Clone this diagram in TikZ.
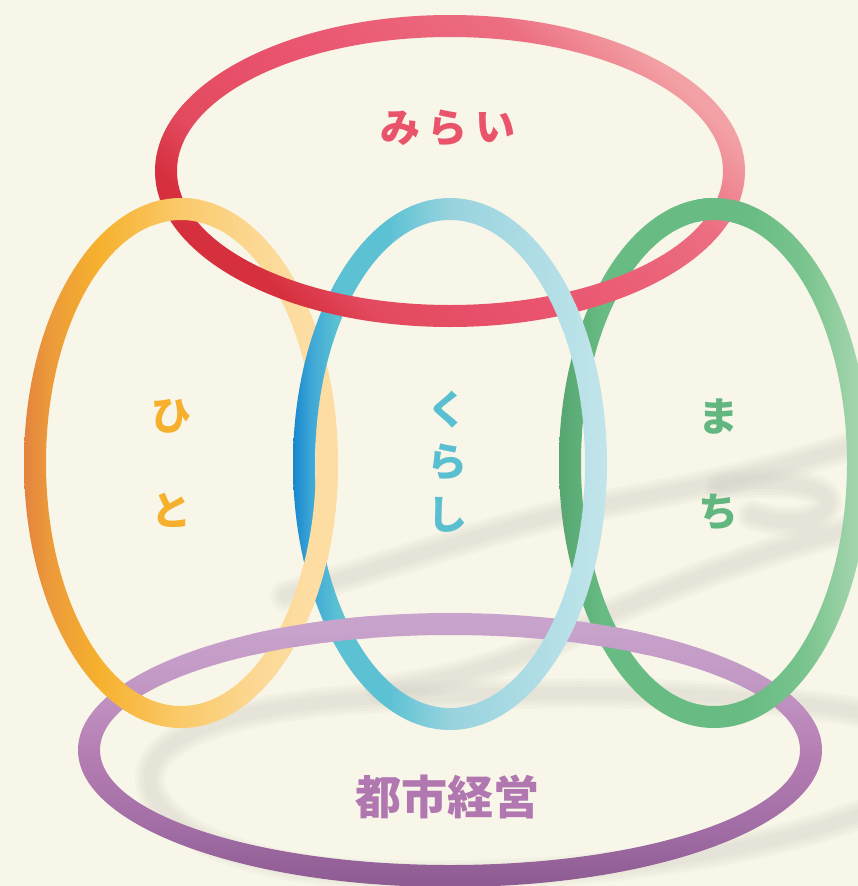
\documentclass[tikz,border=0pt]{standalone}
\usepackage{fontspec}
\newfontfamily\jpfont{Noto Sans CJK JP}
\definecolor{bg}{HTML}{F8F6E8}
\definecolor{shc}{HTML}{CDCBC2}
\definecolor{rA}{HTML}{D6303E}
\definecolor{rB}{HTML}{E34A5F}
\definecolor{rC}{HTML}{EA5570}
\definecolor{rD}{HTML}{EC6E80}
\definecolor{rE}{HTML}{F2A0A4}
\definecolor{rF}{HTML}{F4ADB0}
\definecolor{oA}{HTML}{E3843F}
\definecolor{oAB}{HTML}{EC9A3A}
\definecolor{oB}{HTML}{F6B12E}
\definecolor{oC}{HTML}{FACA6A}
\definecolor{oCD}{HTML}{FCD894}
\definecolor{oD}{HTML}{FDDDA2}
\definecolor{bA}{HTML}{1787CF}
\definecolor{bAB}{HTML}{40A8D6}
\definecolor{bB}{HTML}{5BC1D3}
\definecolor{bC}{HTML}{98D3DE}
\definecolor{bD}{HTML}{C2E5EB}
\definecolor{gA}{HTML}{57A571}
\definecolor{gB}{HTML}{67BB83}
\definecolor{gC}{HTML}{7BC48F}
\definecolor{gD}{HTML}{A8D7B0}
\definecolor{pA}{HTML}{8C5B92}
\definecolor{pAB}{HTML}{A36FA6}
\definecolor{pB}{HTML}{B67FB4}
\definecolor{pBC}{HTML}{C299C5}
\definecolor{pC}{HTML}{C9A5CD}
\definecolor{tR}{HTML}{E9546B}
\definecolor{tO}{HTML}{F6B02D}
\definecolor{tB}{HTML}{5BBFD2}
\definecolor{tG}{HTML}{62B67F}
\definecolor{tP}{HTML}{B177B0}
\pgfdeclarehorizontalshading{redsh}{100bp}{color(0bp)=(rA); color(27bp)=(rA); color(33bp)=(rB); color(48bp)=(rC); color(66bp)=(rD); color(75bp)=(rE); color(82bp)=(rF); color(100bp)=(rF)}
\pgfdeclarehorizontalshading{orangesh}{100bp}{color(0bp)=(oA); color(25bp)=(oA); color(29bp)=(oAB); color(37bp)=(oB); color(50bp)=(oC); color(62bp)=(oCD); color(70bp)=(oD); color(100bp)=(oD)}
\pgfdeclarehorizontalshading{bluesh}{100bp}{color(0bp)=(bA); color(25bp)=(bA); color(28bp)=(bAB); color(32bp)=(bB); color(40bp)=(bB); color(50bp)=(bC); color(75bp)=(bD); color(100bp)=(bD)}
\pgfdeclarehorizontalshading{greensh}{100bp}{color(0bp)=(gA); color(25bp)=(gA); color(32bp)=(gB); color(55bp)=(gB); color(65bp)=(gC); color(74bp)=(gD); color(100bp)=(gD)}
\pgfdeclareverticalshading{purplesh}{100bp}{color(0bp)=(pA); color(25bp)=(pA); color(37bp)=(pAB); color(50bp)=(pB); color(63bp)=(pBC); color(75bp)=(pC); color(100bp)=(pC)}
\newcommand{\ringRed}{\shade[even odd rule, shading=redsh, shading angle=45] (450,171) ellipse [x radius=295, y radius=156] (450,171) ellipse [x radius=273, y radius=134];}
\newcommand{\ringOrange}{\shade[even odd rule, shading=orangesh] (181,463) ellipse [x radius=157, y radius=265] (181,463) ellipse [x radius=135, y radius=243];}
\newcommand{\ringBlue}{\shade[even odd rule, shading=bluesh] (450,464) ellipse [x radius=157, y radius=266] (450,464) ellipse [x radius=135, y radius=244];}
\newcommand{\ringGreen}{\shade[even odd rule, shading=greensh] (714,463) ellipse [x radius=155, y radius=265] (714,463) ellipse [x radius=133, y radius=243];}
\newcommand{\ringPurple}{\shade[even odd rule, shading=purplesh] (450,750) ellipse [x radius=372, y radius=137] (450,750) ellipse [x radius=350, y radius=115];}
\newcommand{\softshadow}[1]{\foreach \w in {30,24,18,12}{\draw[shadowline, line width=\w pt] #1;}}
\tikzset{
  shadowline/.style={draw=shc, opacity=0.11, line cap=round, line join=round},
  jptext/.style={font=\jpfont\bfseries\fontsize{40}{40}\selectfont, inner sep=0pt},
  jpbig/.style={font=\jpfont\bfseries\fontsize{46}{46}\selectfont, inner sep=0pt}
}
\begin{document}
\begin{tikzpicture}[x=1pt,y=-1pt]
\fill[bg] (0,0) rectangle (858,886);
\useasboundingbox (0,0) rectangle (858,886);
\clip (0,0) rectangle (858,886);
% shadows
\softshadow{(150,778) .. controls (150,738) and (230,703) .. (400,697) .. controls (600,690) and (800,688) .. (960,735) .. controls (1010,765) and (960,805) .. (858,815) .. controls (720,866) and (520,880) .. (360,874) .. controls (225,866) and (150,822) .. cycle}
\softshadow{(285,596) .. controls (420,555) and (520,520) .. (603,505) .. controls (680,490) and (760,476) .. (870,440)}
\softshadow{(380,690) .. controls (460,680) and (540,655) .. (610,613) .. controls (700,575) and (780,545) .. (870,525)}
\softshadow{(720,487) .. controls (790,475) and (845,490) .. (822,512) .. controls (802,527) and (775,522) .. (752,515)}
% rings, base order
\ringPurple
\ringOrange
\ringGreen
\ringBlue
\ringRed
% over-crossings
\begin{scope}\clip (176,210) circle [radius=28]; \ringOrange\end{scope}
\begin{scope}\clip (564,304) circle [radius=27]; \ringBlue\end{scope}
\begin{scope}\clip (723,210) circle [radius=28]; \ringGreen\end{scope}
\begin{scope}\clip (285,478) rectangle (352,608); \ringOrange\end{scope}
\begin{scope}\clip (252,604) rectangle (372,668); \ringPurple\end{scope}
\begin{scope}\clip (580,610) rectangle (648,668); \ringPurple\end{scope}
% labels
\node[jptext, text=tR] (mi) at (400,128) {み};
\node[jptext, text=tR] (ra1) at (447,128) {ら};
\node[jptext, text=tR] (i) at (495,128) {い};
\node[jptext, text=tO] (hi) at (171,416) {ひ};
\node[jptext, text=tO] (to) at (171,510) {と};
\node[jptext, text=tB] (ku) at (447,410) {く};
\node[jptext, text=tB] (ra2) at (447,462) {ら};
\node[jptext, text=tB] (shi) at (447,515) {し};
\node[jptext, text=tG] (ma) at (718,417) {ま};
\node[jptext, text=tG] (chi) at (718,512) {ち};
\node[jpbig, text=tP] (toshi) at (447,797) {都市経営};
\end{tikzpicture}
\end{document}
